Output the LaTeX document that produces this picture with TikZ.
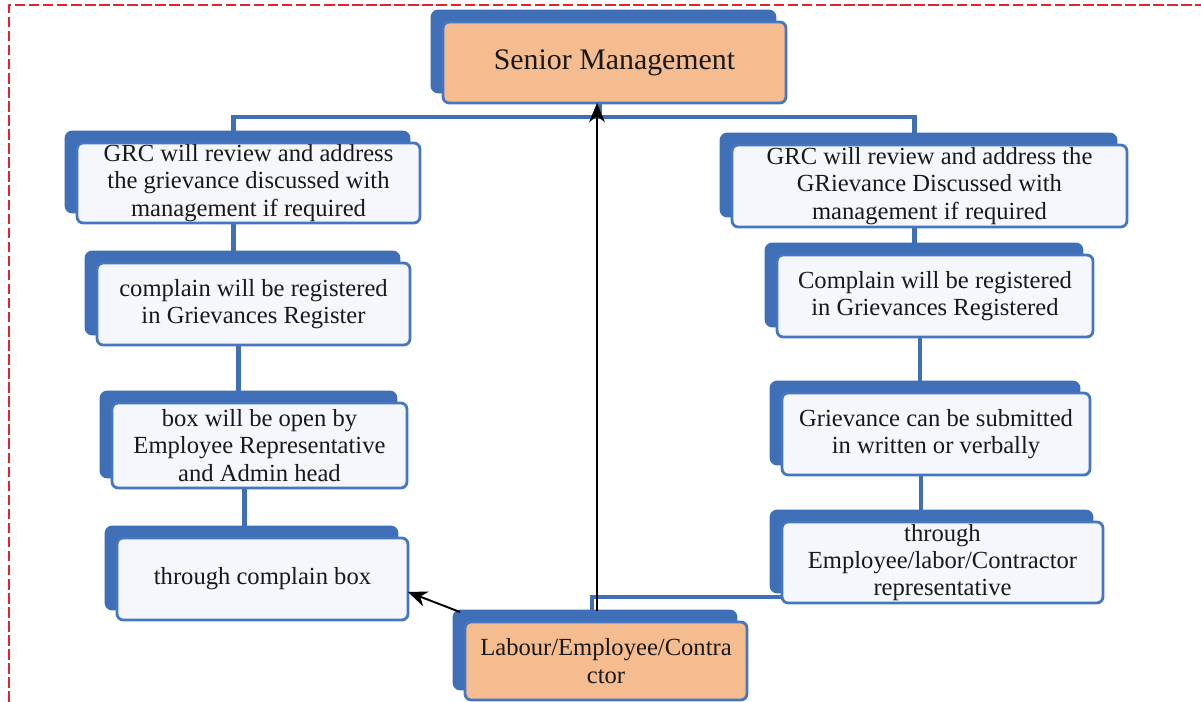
\documentclass[tikz,border=0pt]{standalone}
\usepackage{fontspec}
\setmainfont{Liberation Serif}
\usetikzlibrary{shadows,backgrounds,arrows.meta}
\definecolor{backblue}{RGB}{63,111,182}
\definecolor{edgeblue}{RGB}{70,118,192}
\definecolor{paleblue}{RGB}{245,247,252}
\definecolor{peach}{RGB}{245,188,143}
\definecolor{borderred}{RGB}{232,34,44}
\tikzset{
  flowbox/.style={draw=edgeblue,line width=1.6pt,fill=paleblue,rounded corners=3.5pt,
    align=center,inner sep=0pt,outer sep=0pt,text=black!90,
    font=\fontsize{14}{15.5}\selectfont,
    copy shadow={shadow xshift=-0.22cm,shadow yshift=0.22cm,fill=backblue,draw=backblue}},
  headbox/.style={flowbox,fill=peach},
  wire/.style={draw=backblue,line width=2.4pt},
}
\begin{document}
\begin{tikzpicture}[x=0.02cm,y=-0.02cm,line join=round,>={Stealth[length=11pt,width=9pt]}]
			\useasboundingbox (0,0) rectangle (1201,702);
			
			% Frame
			\draw[borderred,line width=1.2pt,dash pattern=on 6pt off 2pt] (9,702)--(9,5)--(1201,5);
			
			% Top
			\node[headbox,minimum width=6.86cm,minimum height=1.62cm,font=\fontsize{17}{20}\selectfont] (sm) at (614.5,62.5) {Senior Management};
			
			% Left branch
			\node[flowbox,minimum width=6.86cm,minimum height=1.60cm] (l1) at (248.5,183) {GRC will review and address\\the grievance discussed with\\management if required};
			\node[flowbox,minimum width=6.26cm,minimum height=1.64cm] (l2) at (253.5,304) {complain will be registered\\in Grievances Register};
			\node[flowbox,minimum width=5.90cm,minimum height=1.70cm] (l3) at (259.5,445.5) {box will be open by\\Employee Representative\\and Admin head};
			\node[flowbox,minimum width=5.82cm,minimum height=1.64cm] (l4) at (262.5,579) {through complain box};
			
			% Right branch
			\node[flowbox,minimum width=7.90cm,minimum height=1.64cm] (r1) at (929.5,186) {GRC will review and address the\\GRievance Discussed with\\management if required};
			\node[flowbox,minimum width=6.32cm,minimum height=1.64cm] (r2) at (935,296) {Complain will be registered\\in Grievances Registered};
			\node[flowbox,minimum width=6.16cm,minimum height=1.64cm] (r3) at (936,434) {Grievance can be submitted\\in written or verbally};
			\node[flowbox,minimum width=6.42cm,minimum height=1.62cm] (r4) at (942.5,562.5) {through\\Employee/labor/Contractor\\representative};
			
			% Bottom
			\node[headbox,minimum width=5.64cm,minimum height=1.56cm] (lab) at (606,661) {Labour/Employee/Contra\\ctor};
			
			% Blue links
			\begin{scope}[on background layer]
				\draw[wire] ([xshift=-0.3cm]sm.south) -- ++(0,14) coordinate (fork);
				\draw[wire] (fork) -| ([xshift=-0.3cm]l1.north);
				\draw[wire] (fork) -| ([xshift=-0.3cm]r1.north);
				\foreach \a/\b in {l1/l2,l2/l3,l3/l4,r1/r2,r2/r3,r3/r4}
				\draw[wire] ([xshift=-0.3cm]\a.south) -- ([xshift=-0.3cm]\a.south |- \b.north);
				\draw[wire] ([yshift=0.12cm]r4.south west) -| ([xshift=-0.28cm]lab.north);
			\end{scope}
			
			% Arrows
			\draw[->,line width=1.1pt] ([xshift=-0.18cm,yshift=0.22cm]lab.north) -- ([xshift=-0.18cm]lab.north |- sm.south);
			\draw[->,line width=1.1pt] ([xshift=-0.1cm,yshift=0.2cm]lab.north west) -- ([yshift=-0.26cm]l4.east);
		\end{tikzpicture}
\end{document}
